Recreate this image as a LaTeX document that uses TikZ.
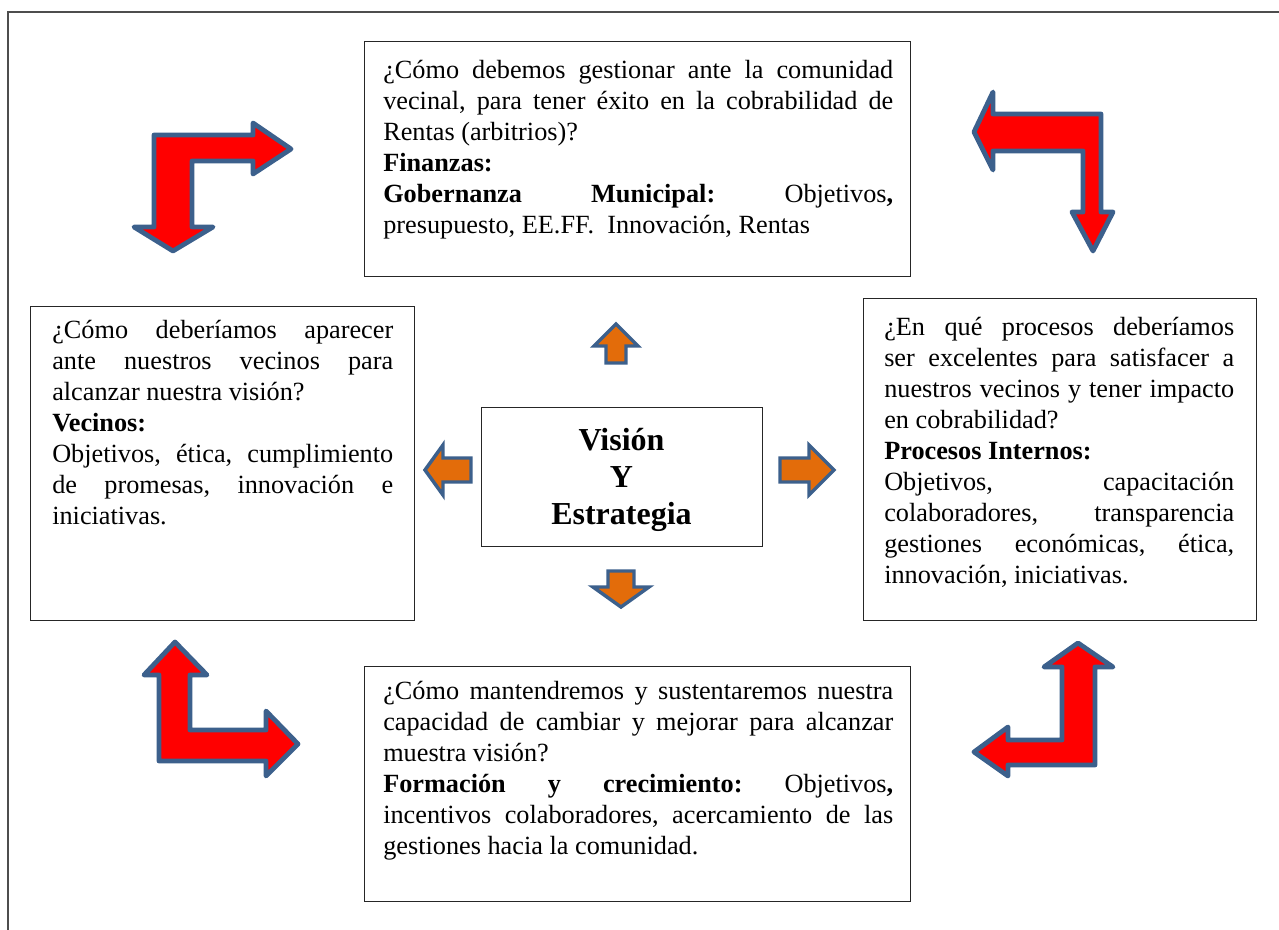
\documentclass[tikz,border=0pt]{standalone}
\usepackage{fontspec}
\setmainfont{Liberation Serif}
\definecolor{arrowblue}{HTML}{3C608C}
\definecolor{arroworange}{HTML}{E36C0A}
\definecolor{framegray}{HTML}{4D4D4D}
\begin{document}
\begin{tikzpicture}[x=0.75pt,y=-0.75pt,
  panel/.style={draw=black!85, line width=1.1pt, fill=white, inner sep=0pt, anchor=north west},
  body/.style={anchor=north west, inner sep=0pt, align=justify,
    font=\fontsize{19.7}{23.3}\selectfont},
  core/.style={inner sep=0pt, align=center, font=\fontsize{24}{27.5}\selectfont\bfseries},
  bigarrow/.style={fill=red, draw=arrowblue, line width=3.6pt, line join=round},
  smallarrow/.style={fill=arroworange, draw=arrowblue, line width=2.6pt, line join=miter}]
\useasboundingbox (0,0) rectangle (1279,930);

% outer frame (open on the right and at the bottom)
\draw[framegray, line width=1.2pt] (8,930) -- (8,12) -- (1279,12);

\tolerance=10000 \hbadness=10000 \frenchspacing
\newcommand{\firstline}{\rule{0pt}{19.7pt}}

% panels
\node[panel, minimum width=409.5pt, minimum height=176.25pt] (fin) at (364,41) {};
\node[panel, minimum width=288pt, minimum height=235.5pt] (vec) at (30,306) {};
\node[panel, minimum width=294.75pt, minimum height=241.5pt] (pro) at (863,298) {};
\node[panel, minimum width=409.5pt, minimum height=176.25pt] (for) at (364,666) {};
\node[panel, minimum width=210.75pt, minimum height=104.25pt] (vis) at (481,407) {};

% panel texts
\node[body, text width=382.5pt] (fintxt) at (383,51.5) {\firstline¿Cómo debemos gestionar ante la comunidad\linebreak
vecinal, para tener éxito en la cobrabilidad de\linebreak
Rentas (arbitrios)?\par
\textbf{Finanzas:}\par
\textbf{Gobernanza Municipal:} Objetivos\textbf{,}\linebreak
presupuesto, EE.FF.\ \ Innovación, Rentas};

\node[body, text width=255.75pt] (vectxt) at (52,311.5) {\firstline¿Cómo deberíamos aparecer\linebreak
ante nuestros vecinos para\linebreak
alcanzar nuestra visión?\par
\textbf{Vecinos:}\par
Objetivos, ética, cumplimiento\linebreak
de promesas, innovación e\linebreak
iniciativas.};

\node[body, text width=262.5pt] (protxt) at (884,308.5) {\firstline¿En qué procesos deberíamos\linebreak
ser excelentes para satisfacer a\linebreak
nuestros vecinos y tener impacto\linebreak
en cobrabilidad?\par
\textbf{Procesos Internos:}\par
Objetivos, capacitación\linebreak
colaboradores, transparencia\linebreak
gestiones económicas, ética,\linebreak
innovación, iniciativas.};

\node[body, text width=382.5pt] (fortxt) at (383,672.5) {\firstline¿Cómo mantendremos y sustentaremos nuestra\linebreak
capacidad de cambiar y mejorar para alcanzar\linebreak
muestra visión?\par
\textbf{Formación y crecimiento:} Objetivos\textbf{,}\linebreak
incentivos colaboradores, acercamiento de las\linebreak
gestiones hacia la comunidad.};

\node[core] (vistxt) at (621.5,480) {Visión\\Y\\Estrategia};

% small arrows around the centre
\draw[smallarrow] (606,363) -- (606,346) -- (594,346) -- (616,324) -- (638,346) -- (626,346) -- (626,363) -- cycle;
\draw[smallarrow] (471,458) -- (443,458) -- (443,445) -- (425,470) -- (443,495) -- (443,482) -- (471,482) -- cycle;
\draw[smallarrow] (780,458) -- (809,458) -- (809,445) -- (834,470) -- (809,495) -- (809,482) -- (780,482) -- cycle;
\draw[smallarrow] (608,571) -- (634,571) -- (634,587) -- (649,587) -- (621,607) -- (593,587) -- (608,587) -- cycle;

% bent arrows in the corners
\draw[bigarrow] (154,135) -- (253,135) -- (253,123) -- (291,149) -- (253,174) -- (253,161) -- (192,161) -- (192,227) -- (213,227) -- (173,251) -- (134,227) -- (154,227) -- cycle;
\draw[bigarrow] (1101,114) -- (1101,212) -- (1113,212) -- (1093,251) -- (1072,212) -- (1083,212) -- (1083,151) -- (993,151) -- (993,170) -- (974,132) -- (993,92) -- (993,114) -- cycle;
\draw[bigarrow] (159,761) -- (159,675) -- (144,675) -- (175,642) -- (207,675) -- (190,675) -- (190,730) -- (266,730) -- (266,711) -- (298,744) -- (266,776) -- (266,761) -- cycle;
\draw[bigarrow] (1095,765) -- (1008,765) -- (1008,776) -- (974,752) -- (1008,727) -- (1008,740) -- (1062,740) -- (1062,667) -- (1044,667) -- (1078,643) -- (1113,667) -- (1095,667) -- cycle;
\end{tikzpicture}
\end{document}
